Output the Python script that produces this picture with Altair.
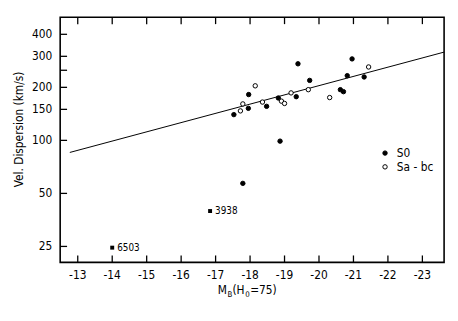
import altair as alt
import pandas as pd

# ---- data ----
s0_mb = [-17.53, -17.96, -17.95, -18.48, -18.82, -18.87, -17.79, -19.34, -19.39,
         -19.73, -20.62, -20.71, -20.82, -20.96, -21.31]
s0_sig = [140, 182, 152, 156, 174, 99, 57, 177, 272, 219, 194, 189, 233, 290, 229]

sa_mb = [-17.72, -17.79, -18.15, -18.36, -18.91, -19.0, -19.19, -19.69, -20.31, -21.44]
sa_sig = [147, 161, 204, 165, 167, 162, 186, 194, 175, 261]

named_mb = [-14.0, -16.84]
named_sig = [24.6, 39.7]
named_lbl = ["6503", "3938"]

fit_mb = [-12.77, -23.63]
fit_sig = [85.4, 317]

x_ticks = [-13, -14, -15, -16, -17, -18, -19, -20, -21, -22, -23]
x_tick_labels = ["-13", "-14", "-15", "-16", "-17", "-18", "-19", "-20", "-21", "-22", "-23"]
y_ticks = [25, 50, 100, 150, 200, 250, 300, 400]
y_tick_labels = ["25", "50", "100", "150", "200", "", "300", "400"]

FONT = "DejaVu Sans Condensed, Liberation Sans Narrow, DejaVu Sans"
W, H = 390, 249

pts = pd.DataFrame({
    "mb": s0_mb + sa_mb,
    "sig": s0_sig + sa_sig,
    "type": ["S0"] * len(s0_mb) + ["Sa - bc"] * len(sa_mb),
})
named = pd.DataFrame({"mb": named_mb, "sig": named_sig, "lbl": named_lbl})
fit = pd.DataFrame({"mb": fit_mb, "sig": fit_sig})
xt = pd.DataFrame({"mb": x_ticks, "lab": x_tick_labels})
yt = pd.DataFrame({"sig": y_ticks, "lab": y_tick_labels})

xscale = alt.Scale(domain=[-23.63, -12.49], reverse=True, nice=False, zero=False)
yscale = alt.Scale(type="log", domain=[20.3, 500], nice=False)

X = alt.X("mb:Q", scale=xscale, axis=None)
Y = alt.Y("sig:Q", scale=yscale, axis=None)

line = alt.Chart(fit).mark_line(color="black", strokeWidth=1).encode(x=X, y=Y)

tick_top = alt.Chart(xt).mark_tick(color="black", thickness=1.3, size=7, opacity=1).encode(
    x=X, y=alt.value(3.5))
tick_bot = alt.Chart(xt).mark_tick(color="black", thickness=1.3, size=7, opacity=1).encode(
    x=X, y=alt.value(H - 3.5))
tick_left = alt.Chart(yt).mark_tick(color="black", thickness=1.3, size=7, opacity=1).encode(
    y=Y, x=alt.value(3.5))

x_labels = alt.Chart(xt).mark_text(align="center", baseline="middle", font=FONT,
                                   fontSize=12, color="black").encode(
    x=X, y=alt.value(H + 13), text="lab:N")
y_labels = alt.Chart(yt).mark_text(align="right", baseline="middle", font=FONT,
                                   fontSize=12, color="black").encode(
    y=Y, x=alt.value(-8), text="lab:N")

points = alt.Chart(pts).mark_point(filled=True, size=20, stroke="black", strokeWidth=1,
                                   opacity=1, shape="circle").encode(
    x=X, y=Y,
    fill=alt.Fill("type:N", scale=alt.Scale(domain=["S0", "Sa - bc"], range=["black", "white"]),
                  legend=alt.Legend(title=None, orient="none", legendX=324, legendY=132,
                                    labelFont=FONT, labelFontSize=12, labelColor="black",
                                    symbolStrokeColor="black", symbolStrokeWidth=1,
                                    symbolSize=20, symbolType="circle", symbolOpacity=1,
                                    rowPadding=2, labelOffset=6, padding=0)),
)

squares = alt.Chart(named).mark_point(filled=True, shape="square", size=16,
                                      color="black", opacity=1).encode(x=X, y=Y)
sq_lbl = alt.Chart(named).mark_text(align="left", baseline="middle", dx=5, font=FONT,
                                    fontSize=10, color="black").encode(x=X, y=Y, text="lbl:N")

def txt(s, x, y, size, angle=0, align="left", baseline="alphabetic"):
    return alt.Chart(pd.DataFrame({"s": [s]})).mark_text(
        align=align, baseline=baseline, font=FONT, fontSize=size, color="black", angle=angle
    ).encode(text="s:N", x=alt.value(x), y=alt.value(y))

title_parts = (txt("M", 160, 281, 12) + txt("B", 170, 284, 8) + txt("(H", 175, 281, 12)
               + txt("0", 188, 284, 8) + txt("=75)", 193, 281, 12))
y_title = txt("Vel. Dispersion (km/s)", -42, 114, 12, angle=270, align="center",
              baseline="middle")

chart = alt.layer(
    line, tick_top, tick_bot, tick_left, points, squares, sq_lbl,
    x_labels, y_labels, title_parts, y_title
).properties(
    width=W, height=H,
    background="white",
    autosize=alt.AutoSizeParams(type="none"),
    padding={"left": 53, "top": 7, "right": 6, "bottom": 45},
).configure_view(stroke="black", strokeWidth=1.6)

chart.save("out.html", embed_options={"renderer": "svg", "actions": False})
